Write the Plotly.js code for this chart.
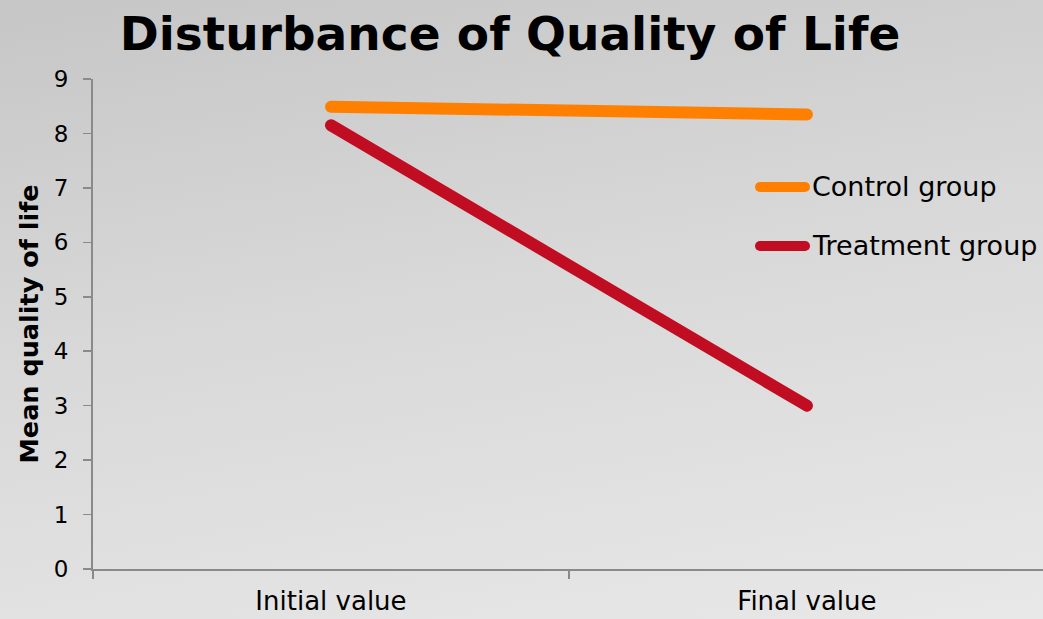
<!DOCTYPE html>
<html>
<head>
<meta charset="utf-8">
<script src="https://cdn.plot.ly/plotly-3.0.1.min.js"></script>
<style>
html,body{margin:0;padding:0;}
body{width:1043px;height:619px;overflow:hidden;background:linear-gradient(170deg,#c6c6c6 0%,#d8d8d8 45%,#e8e8e8 100%);}
#chart{width:1043px;height:619px;}
.js-line{stroke-linecap:round !important;}
.shapelayer path{stroke-linecap:round !important;}
</style>
</head>
<body>
<div id="chart"></div>
<script>
const categories = ["Initial value", "Final value"];
const seriesNames = ["Control group", "Treatment group"];
const controlValues = [8.49, 8.35];
const treatmentValues = [8.15, 3.0];
const seriesColors = ["#FF8000", "#C00D22"];
const yTicks = [0,1,2,3,4,5,6,7,8,9];

const traces = [
  {x: categories, y: controlValues, name: seriesNames[0], type: "scatter", mode: "lines",
   line: {color: seriesColors[0], width: 12}, showlegend: false},
  {x: categories, y: treatmentValues, name: seriesNames[1], type: "scatter", mode: "lines",
   line: {color: seriesColors[1], width: 12}, showlegend: false}
];

const legendY = [0.7796, 0.6592];
const shapes = [];
const annotations = [];
seriesNames.forEach((n, i) => {
  shapes.push({type: "line", xref: "paper", yref: "paper",
    x0: 0.7021, x1: 0.7495, y0: legendY[i], y1: legendY[i],
    line: {color: seriesColors[i], width: 10}});
  annotations.push({xref: "paper", yref: "paper", x: 0.7547, y: legendY[i],
    xanchor: "left", yanchor: "middle", showarrow: false, text: n,
    font: {family: "DejaVu Sans", size: 27, color: "#000"}});
});

const layout = {
  width: 1043, height: 619,
  margin: {l: 93, r: 0, t: 79, b: 50},
  paper_bgcolor: "rgba(0,0,0,0)",
  plot_bgcolor: "rgba(0,0,0,0)",
  title: {text: "<b>Disturbance of Quality of Life</b>", x: 0.489, xanchor: "center",
    y: 0.945, yanchor: "middle",
    font: {family: "DejaVu Sans", size: 47, color: "#000"}},
  xaxis: {type: "category", range: [-0.5, 1.496], tickson: "boundaries",
    ticks: "outside", ticklen: 8, tickcolor: "#8a8a8a", tickwidth: 1.5,
    showline: true, linecolor: "#8a8a8a", linewidth: 2, showgrid: false, zeroline: false,
    ticklabelstandoff: 8,
    tickfont: {family: "DejaVu Sans", size: 26, color: "#000"}},
  yaxis: {range: [0, 9], tickvals: yTicks, ticks: "outside", ticklen: 8,
    tickcolor: "#8a8a8a", tickwidth: 1.5, showline: true, linecolor: "#8a8a8a", linewidth: 2,
    showgrid: false, zeroline: false, ticklabelstandoff: 10,
    tickfont: {family: "DejaVu Sans", size: 23, color: "#000"},
    title: {text: "<b>Mean quality of life</b>", standoff: 8,
      font: {family: "DejaVu Sans", size: 25.5, color: "#000"}}},
  shapes: shapes,
  annotations: annotations,
  showlegend: false
};

Plotly.newPlot("chart", traces, layout, {displayModeBar: false, staticPlot: true});
</script>
</body>
</html>
